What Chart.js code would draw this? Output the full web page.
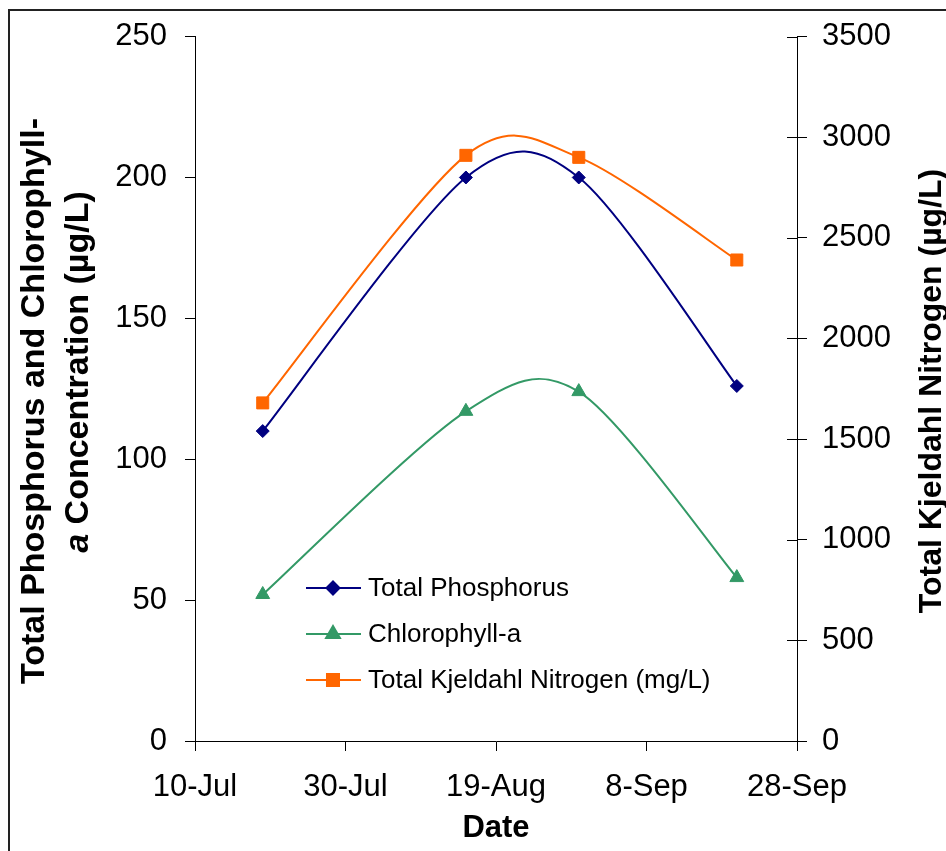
<!DOCTYPE html>
<html>
<head>
<meta charset="utf-8">
<script src="https://cdn.jsdelivr.net/npm/chart.js@4.4.1/dist/chart.umd.min.js"></script>
<style>
html,body{margin:0;padding:0;background:#fff;overflow:hidden}
#wrap{position:relative;width:946px;height:851px}
canvas{display:block}
</style>
</head>
<body>
<div id="wrap"><canvas id="c" width="946" height="851"></canvas></div>
<script>
// ---- data ----
const sampleDates = ['2001-07-19', '2001-08-15', '2001-08-30', '2001-09-20'];
const totalPhosphorus = [110, 200, 200, 126];      // µg/L (left axis)
const chlorophyllA = [52, 117, 124, 58];           // µg/L (left axis)
const totalKjeldahlN = [1680, 2910, 2900, 2390];   // µg/L (right axis)
const xTickDates = ['2001-07-10', '2001-07-30', '2001-08-19', '2001-09-08', '2001-09-28'];
const leftTickValues = [0, 50, 100, 150, 200, 250];
const rightTickValues = [0, 500, 1000, 1500, 2000, 2500, 3000, 3500];
const seriesNames = ['Total Phosphorus', 'Chlorophyll-a', 'Total Kjeldahl Nitrogen (mg/L)'];
const xTitle = 'Date';
const leftTitleLine1 = 'Total Phosphorus and Chlorophyll-';
const leftTitleItalic = 'a';
const leftTitleRest = ' Concentration (µg/L)';
const rightTitle = 'Total Kjeldahl Nitrogen (µg/L)';
const monthNames = ['Jan','Feb','Mar','Apr','May','Jun','Jul','Aug','Sep','Oct','Nov','Dec'];

const FONT = '"Liberation Sans", Arial, Helvetica, sans-serif';
const C_TP = '#000080', C_CHL = '#339966', C_TKN = '#FF6600';
const SMOOTH = 0.15; // spreadsheet-style (Catmull-Rom like) smoothing factor

function dayNum(s) { return Date.parse(s + 'T00:00:00Z') / 86400000; }
function fmtDay(d) {
  const dt = new Date(d * 86400000);
  return dt.getUTCDate() + '-' + monthNames[dt.getUTCMonth()];
}
const xs = sampleDates.map(dayNum);
const xTicks = xTickDates.map(dayNum);
const pts = arr => arr.map((v, i) => ({ x: xs[i], y: v }));

const styles = [
  { color: C_TP, pointStyle: 'rectRot', radius: 6.5 },
  { color: C_CHL, pointStyle: 'triangle', radius: 8 },
  { color: C_TKN, pointStyle: 'rect', radius: 8.5 }
];

// replace Chart.js control points by spreadsheet-like smoothing (computed from the library's point pixels)
const smoothPlugin = {
  id: 'xlsmooth',
  beforeDatasetsDraw(chart) {
    chart.data.datasets.forEach((ds, di) => {
      const meta = chart.getDatasetMeta(di);
      const p = meta.data;
      const n = p.length;
      for (let i = 0; i < n; i++) {
        const prev = p[Math.max(0, i - 1)];
        const next = p[Math.min(n - 1, i + 1)];
        const dx = (next.x - prev.x) * SMOOTH;
        const dy = (next.y - prev.y) * SMOOTH;
        p[i].cp1x = p[i].x - dx; p[i].cp1y = p[i].y - dy;
        p[i].cp2x = p[i].x + dx; p[i].cp2y = p[i].y + dy;
      }
      if (meta.dataset) meta.dataset._pointsUpdated = true;
    });
  }
};

const decorPlugin = {
  id: 'decor',
  beforeDraw(chart) {
    const ctx = chart.ctx;
    ctx.save();
    ctx.strokeStyle = '#222';
    ctx.lineWidth = 2;
    ctx.strokeRect(9, 10, 1200, 1200);
    ctx.restore();
  },
  afterDraw(chart) {
    const ctx = chart.ctx;
    const ca = chart.chartArea;
    ctx.save();
    ctx.fillStyle = '#000';
    ctx.textBaseline = 'alphabetic';
    // left title line 1
    ctx.save();
    ctx.translate(44, 401);
    ctx.rotate(-Math.PI / 2);
    ctx.font = 'bold 34px ' + FONT;
    ctx.textAlign = 'center';
    ctx.fillText(leftTitleLine1, 0, 0);
    ctx.restore();
    // left title line 2 (italic a)
    ctx.save();
    ctx.translate(88, 372);
    ctx.rotate(-Math.PI / 2);
    ctx.font = 'italic bold 34px ' + FONT;
    const wA = ctx.measureText(leftTitleItalic).width;
    ctx.font = 'bold 34px ' + FONT;
    const wR = ctx.measureText(leftTitleRest).width;
    const start = -(wA + wR) / 2;
    ctx.textAlign = 'left';
    ctx.font = 'italic bold 34px ' + FONT;
    ctx.fillText(leftTitleItalic, start, 0);
    ctx.font = 'bold 34px ' + FONT;
    ctx.fillText(leftTitleRest, start + wA, 0);
    ctx.restore();
    // right title
    ctx.save();
    ctx.translate(941, 391);
    ctx.rotate(-Math.PI / 2);
    ctx.font = 'bold 32px ' + FONT;
    ctx.textAlign = 'center';
    ctx.fillText(rightTitle, 0, 0);
    ctx.restore();

    // inside half of right-axis ticks
    const y1 = chart.scales.y1;
    ctx.strokeStyle = '#000';
    ctx.lineWidth = 1;
    y1.ticks.forEach((t, i) => {
      const py = Math.round(y1.getPixelForTick(i)) + 0.5;
      ctx.beginPath();
      ctx.moveTo(ca.right - 10, py);
      ctx.lineTo(ca.right, py);
      ctx.stroke();
    });

    // legend
    const rowsY = [588, 634, 680];
    ctx.font = '26px ' + FONT;
    ctx.textAlign = 'left';
    ctx.textBaseline = 'middle';
    seriesNames.forEach((name, i) => {
      const st = styles[i];
      const y = rowsY[i];
      ctx.strokeStyle = st.color;
      ctx.lineWidth = 2;
      ctx.beginPath();
      ctx.moveTo(306, y);
      ctx.lineTo(361, y);
      ctx.stroke();
      ctx.fillStyle = st.color;
      Chart.helpers.drawPoint(ctx, { pointStyle: st.pointStyle, radius: st.radius, rotation: 0, borderWidth: 1 }, 333, y);
      ctx.fillStyle = '#000';
      ctx.fillText(name, 368, y + 1);
    });
    ctx.restore();
  }
};

const mk = (label, data, st, axis) => ({
  label, data, yAxisID: axis,
  borderColor: st.color, backgroundColor: st.color,
  borderWidth: 2, tension: 0.4,
  pointStyle: st.pointStyle, pointRadius: st.radius, pointHoverRadius: st.radius,
  pointBackgroundColor: st.color, pointBorderColor: st.color, pointBorderWidth: 1
});

new Chart(document.getElementById('c'), {
  type: 'line',
  data: {
    datasets: [
      mk(seriesNames[0], pts(totalPhosphorus), styles[0], 'y'),
      mk(seriesNames[1], pts(chlorophyllA), styles[1], 'y'),
      mk(seriesNames[2], pts(totalKjeldahlN), styles[2], 'y1')
    ]
  },
  options: {
    responsive: false,
    animation: false,
    devicePixelRatio: 1,
    layout: { padding: { top: 34, left: 0, right: 0, bottom: 0 } },
    plugins: { legend: { display: false }, tooltip: { enabled: false } },
    scales: {
      x: {
        type: 'linear',
        min: xTicks[0], max: xTicks[xTicks.length - 1],
        afterBuildTicks: s => { s.ticks = xTicks.map(v => ({ value: v })); },
        afterFit: s => { s.height = 110; },
        ticks: {
          callback: v => fmtDay(v), color: '#000', padding: 18, maxRotation: 0, autoSkip: false,
          font: { family: FONT, size: 31 }
        },
        grid: { drawOnChartArea: false, drawTicks: true, tickLength: 10, color: '#000' },
        border: { display: true, color: '#000', width: 1 },
        title: { display: true, text: xTitle, color: '#000', padding: { top: 0, bottom: 4 },
                 font: { family: FONT, size: 31, weight: 'bold' } }
      },
      y: {
        position: 'left', min: 0, max: 250,
        afterBuildTicks: s => { s.ticks = leftTickValues.map(v => ({ value: v })); },
        afterFit: s => { s.width = 195; },
        ticks: { color: '#000', padding: 18, font: { family: FONT, size: 31 }, callback: v => String(v) },
        grid: { drawOnChartArea: false, drawTicks: true, tickLength: 10, color: '#000' },
        border: { display: true, color: '#000', width: 1 }
      },
      y1: {
        position: 'right', min: 0, max: 3500,
        afterBuildTicks: s => { s.ticks = rightTickValues.map(v => ({ value: v })); },
        afterFit: s => { s.width = 149; },
        ticks: { color: '#000', padding: 15, font: { family: FONT, size: 31 }, callback: v => String(v) },
        grid: { drawOnChartArea: false, drawTicks: true, tickLength: 10, color: '#000' },
        border: { display: true, color: '#000', width: 1 }
      }
    }
  },
  plugins: [smoothPlugin, decorPlugin]
});
</script>
</body>
</html>
